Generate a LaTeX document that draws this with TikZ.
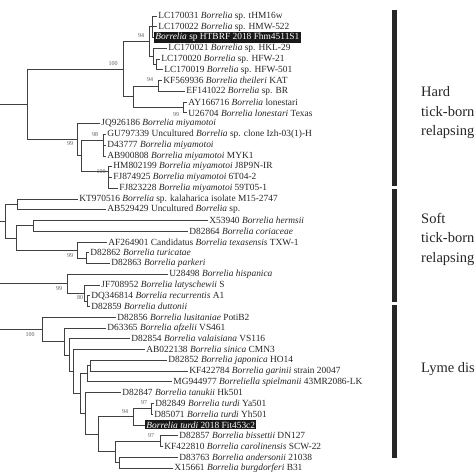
\documentclass[tikz,border=0pt]{standalone}
\usepackage{fontspec}
\setmainfont{Liberation Serif}
\usetikzlibrary{positioning}

\tikzset{
  br/.style={line width=0.7pt, draw=black!75},
  lab/.style={anchor=west, inner sep=1.2pt, font=\fontsize{9.4}{10}\selectfont, text=black!85},
  hl/.style={anchor=west, inner sep=1.2pt, fill=black!90, text=white, font=\fontsize{9.4}{10}\selectfont},
  bs/.style={inner sep=0pt, font=\fontsize{6}{6}\selectfont, text=black!65},
  grp/.style={anchor=west, align=left, inner sep=0pt, font=\fontsize{14.5}{19.5}\selectfont, text=black!85},
  bar/.style={fill=black!85},
}

\begin{document}
\begin{tikzpicture}[x=1pt,y=-1pt]
    \useasboundingbox (0,0) rectangle (474,474);
    \clip (0,0) rectangle (474,474);
    \coordinate (lft) at (0,0);
    % hard tick-borne clade
    \coordinate (H0) at (27,104.4);
    \coordinate (HA) at (123,69.2);
    \coordinate (A1) at (149,41.6);
    \coordinate (g1) at (152,26.8);
    \coordinate (g2) at (153,56.4);
    \coordinate (g3) at (156,64.4);
    \coordinate (B) at (133,96.7);
    \coordinate (b1) at (158,86);
    \coordinate (b2) at (183,107.5);
    \coordinate (M0) at (77,139.6);
    \coordinate (M1) at (81,155.5);
    \coordinate (M2) at (103,140);
    \coordinate (M3) at (108,171);
    % soft tick-borne clade
    \coordinate (S0) at (5,221.1);
    \coordinate (K) at (17,204.3);
    \coordinate (SH) at (16,237.9);
    \coordinate (H1) at (33,225.8);
    \coordinate (T) at (77,250);
    \coordinate (T2) at (86,258.1);
    \coordinate (O) at (67,283.6);
    \coordinate (O2) at (84,293.1);
    \coordinate (O3) at (87,301.2);
    % lyme clade
    \coordinate (L) at (42,329.5);
    \coordinate (L2) at (64,341.6);
    \coordinate (L3) at (69,355.2);
    \coordinate (L4) at (73,371.6);
    \coordinate (L5) at (80,393.6);
    \coordinate (G1) at (87,373.8);
    \coordinate (G1a) at (90,365.7);
    \coordinate (G2) at (85,413.4);
    \coordinate (G3) at (98,434.3);
    \coordinate (T94) at (133,416.8);
    \coordinate (T97) at (151,408.8);
    \coordinate (Bn) at (115,451.8);
    \coordinate (T97b) at (160,441);
    \coordinate (C) at (119,462.6);

    \foreach \pa/\ch in {H0/HA, H0/M0, HA/A1, HA/B, A1/g1, A1/g2, g2/g3, B/b1, B/b2,
        M0/M1, M1/M2, M1/M3, S0/K, S0/SH, SH/H1, SH/T, T/T2, O/O2, O2/O3,
        L/L2, L2/L3, L3/L4, L4/L5, L5/G1, L5/G2, G1/G1a, G2/G3, G3/T94, G3/Bn,
        T94/T97, Bn/T97b, Bn/C}
        \draw[br] (\pa) |- (\ch);
    \foreach \pa in {H0, S0, O, L}
        \draw[br] (\pa) -- (\pa -| lft);

    \foreach \rw/\lx/\pa/\st/\tx in {
        1/157/g1/lab/{LC170031 \textit{Borrelia} sp. tHM16w},
        2/157/g1/lab/{LC170022 \textit{Borrelia} sp. HMW-522},
        3/154/g1/hl/{\textit{Borrelia} sp HTBRF 2018 Fhm4511S1},
        4/167/g2/lab/{LC170021 \textit{Borrelia} sp. HKL-29},
        5/160/g3/lab/{LC170020 \textit{Borrelia} sp. HFW-21},
        6/163/g3/lab/{LC170019 \textit{Borrelia} sp. HFW-501},
        7/162/b1/lab/{KF569936 \textit{Borrelia theileri} KAT},
        8/185/b1/lab/{EF141022 \textit{Borrelia} sp. BR},
        9/187/b2/lab/{AY166716 \textit{Borrelia} lonestari},
        10/187/b2/lab/{U26704 \textit{Borrelia lonestari} Texas},
        11/100/M0/lab/{JQ926186 \textit{Borrelia miyamotoi}},
        12/106/M2/lab/{GU797339 Uncultured \textit{Borrelia} sp. clone Izh-03(1)-H},
        13/106/M2/lab/{D43777 \textit{Borrelia miyamotoi}},
        14/106/M2/lab/{AB900808 \textit{Borrelia miyamotoi} MYK1},
        15/112/M3/lab/{HM802199 \textit{Borrelia miyamotoi} J8P9N-IR},
        16/112/M3/lab/{FJ874925 \textit{Borrelia miyamotoi} 6T04-2},
        17/118/M3/lab/{FJ823228 \textit{Borrelia miyamotoi} 59T05-1},
        18/78/K/lab/{KT970516 \textit{Borrelia} sp. kalaharica isolate M15-2747},
        19/106/K/lab/{AB529429 Uncultured \textit{Borrelia} sp.},
        20/208/H1/lab/{X53940 \textit{Borrelia hermsii}},
        21/188/H1/lab/{D82864 \textit{Borrelia coriaceae}},
        22/107/T/lab/{AF264901 Candidatus \textit{Borrelia texasensis} TXW-1},
        23/89/T2/lab/{D82862 \textit{Borrelia turicatae}},
        24/110/T2/lab/{D82863 \textit{Borrelia parkeri}},
        25/168/O/lab/{U28498 \textit{Borrelia hispanica}},
        26/100/O2/lab/{JF708952 \textit{Borrelia latyschewii} S},
        27/90/O3/lab/{DQ346814 \textit{Borrelia recurrentis} A1},
        28/90/O3/lab/{D82859 \textit{Borrelia duttonii}},
        29/116/L/lab/{D82856 \textit{Borrelia lusitaniae} PotiB2},
        30/106/L2/lab/{D63365 \textit{Borrelia afzelii} VS461},
        31/130/L3/lab/{D82854 \textit{Borrelia valaisiana} VS116},
        32/145/L4/lab/{AB022138 \textit{Borrelia sinica} CMN3},
        33/167/G1a/lab/{D82852 \textit{Borrelia japonica} HO14},
        34/188/G1a/lab/{KF422784 \textit{Borrelia garinii} strain 20047},
        35/172/G1/lab/{MG944977 \textit{Borreliella spielmanii} 43MR2086-LK},
        36/121/G2/lab/{D82847 \textit{Borrelia tanukii} Hk501},
        37/154/T97/lab/{D82849 \textit{Borrelia turdi} Ya501},
        38/153/T97/lab/{D85071 \textit{Borrelia turdi} Yh501},
        39/145/T94/hl/{\textit{Borrelia turdi} 2018 Fit453c2},
        40/178/T97b/lab/{D82857 \textit{Borrelia bissettii} DN127},
        41/163/T97b/lab/{KF422810 \textit{Borrelia carolinensis} SCW-22},
        42/178/C/lab/{D83763 \textit{Borrelia andersonii} 21038},
        43/173/C/lab/{X15661 \textit{Borrelia burgdorferi} B31}} {
        \pgfmathsetmacro\ly{16+(\rw-1)*10.76}
        \node[\st] (l\rw) at (\lx,\ly) {\tx};
        \draw[br] (\pa) |- (l\rw.west);
    }

    \foreach \bx/\by/\bv [count=\k] in {141/36/94, 113/64/100, 150/80/94, 176/115/99,
        70/144/99, 95/135/98, 101/172/100, 70/256/99, 59/289/99, 80/298/80,
        30/335/100, 144/403/97, 125/412/94, 151/436/97}
        \node[bs] (bs\k) at (\bx,\by) {\bv};

    \fill[bar] (392,10) rectangle (397,186);
    \fill[bar] (392,189) rectangle (397,302);
    \fill[bar] (392,305) rectangle (397,458);
    \node[grp] (hard) at (421,113) {Hard\\tick-borne\\relapsing fever};
    \node[grp] (soft) at (421,239) {Soft\\tick-borne\\relapsing fever};
    \node[grp] (lyme) at (421,369) {Lyme disease};
\end{tikzpicture}
\end{document}
